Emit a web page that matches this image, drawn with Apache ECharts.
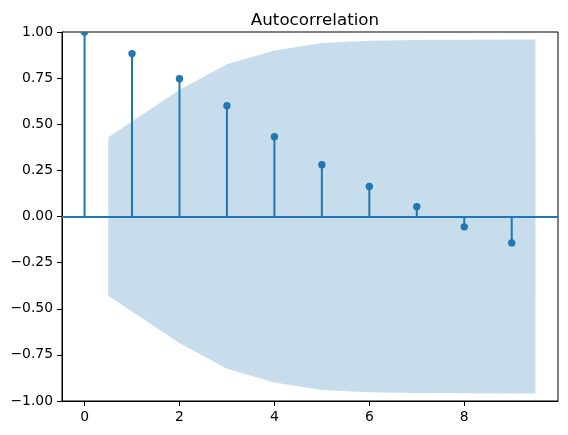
<!DOCTYPE html>
<html>
<head>
<meta charset="utf-8">
<script src="https://cdn.jsdelivr.net/npm/echarts@6/dist/echarts.min.js"></script>
<style>
  html, body { margin: 0; padding: 0; background: #fff; }
  #chart { width: 568px; height: 435px; }
</style>
</head>
<body>
<div id="chart"></div>
<script>
const lags = [0, 1, 2, 3, 4, 5, 6, 7, 8, 9]
const acfValues = [1.0, 0.883, 0.747, 0.600, 0.432, 0.281, 0.163, 0.053, -0.056, -0.143]
// confidence band, drawn from lag 0.5 to 9.5
const bandX = [0.5, 2, 3, 4, 5, 6, 7, 8, 9.5]
const bandUpper = [0.43, 0.685, 0.825, 0.90, 0.94, 0.952, 0.956, 0.958, 0.96]
const bandLower = [-0.43, -0.685, -0.825, -0.90, -0.94, -0.952, -0.956, -0.958, -0.96]
const xTicks = [0, 2, 4, 6, 8]
const yTicks = [-1, -0.75, -0.5, -0.25, 0, 0.25, 0.5, 0.75, 1]

const C0 = '#1f77b4'
const font = 'DejaVu Sans'

const fmtY = (v) => {
  const s = Math.abs(v).toFixed(2)
  return v < 0 ? '\u2212' + s : s
}

const chart = echarts.init(document.getElementById('chart'))

chart.setOption({
  animation: false,
  backgroundColor: '#fff',
  title: {
    text: 'Autocorrelation',
    left: 310,
    top: 7,
    textAlign: 'center',
    textStyle: { fontFamily: font, fontSize: 16.7, fontWeight: 'normal', color: '#000' }
  },
  grid: {
    left: 62,
    right: 10,
    top: 32,
    bottom: 34,
    show: true,
    borderColor: '#000',
    borderWidth: 1,
    backgroundColor: 'transparent'
  },
  xAxis: {
    type: 'value',
    min: -0.475,
    max: 9.975,
    splitLine: { show: false },
    axisLine: { show: true, onZero: false, lineStyle: { color: '#000', width: 1 } },
    axisTick: { show: true, length: 5, lineStyle: { color: '#000' }, customValues: xTicks },
    axisLabel: {
      color: '#000',
      fontFamily: font,
      fontSize: 13.9,
      margin: 9,
      customValues: xTicks,
      formatter: (v) => String(v)
    }
  },
  yAxis: {
    type: 'value',
    min: -1,
    max: 1,
    interval: 0.25,
    splitLine: { show: false },
    axisLine: { show: true, onZero: false, lineStyle: { color: '#000', width: 1 } },
    axisTick: { show: true, length: 5, lineStyle: { color: '#000' }, customValues: yTicks },
    axisLabel: {
      color: '#000',
      fontFamily: font,
      fontSize: 13.9,
      margin: 9,
      customValues: yTicks,
      formatter: fmtY
    }
  },
  series: [
    {
      // confidence band as one polygon
      type: 'custom',
      z: 1,
      silent: true,
      data: [0],
      renderItem: (params, api) => {
        const pts = []
        bandX.forEach((x, i) => pts.push(api.coord([x, bandUpper[i]])))
        for (let i = bandX.length - 1; i >= 0; i--) pts.push(api.coord([bandX[i], bandLower[i]]))
        return {
          type: 'polygon',
          shape: { points: pts },
          style: { fill: 'rgba(31,119,180,0.25)', stroke: null }
        }
      }
    },
    {
      // stems with markers, clipped to the plot area
      type: 'custom',
      z: 3,
      clip: true,
      data: lags.map((l, i) => [l, acfValues[i]]),
      renderItem: (params, api) => {
        const p0 = api.coord([api.value(0), 0])
        const p1 = api.coord([api.value(0), api.value(1)])
        return {
          type: 'group',
          children: [
            {
              type: 'line',
              shape: { x1: p0[0], y1: p0[1], x2: p1[0], y2: p1[1] },
              style: { stroke: C0, lineWidth: 2 }
            },
            {
              type: 'circle',
              z2: 10,
              shape: { cx: p1[0], cy: p1[1], r: 3.7 },
              style: { fill: C0 }
            }
          ]
        }
      },
      markLine: {
        silent: true,
        symbol: 'none',
        label: { show: false },
        lineStyle: { color: C0, width: 2, type: 'solid' },
        data: [{ yAxis: 0 }]
      }
    }
  ]
})
</script>
</body>
</html>
